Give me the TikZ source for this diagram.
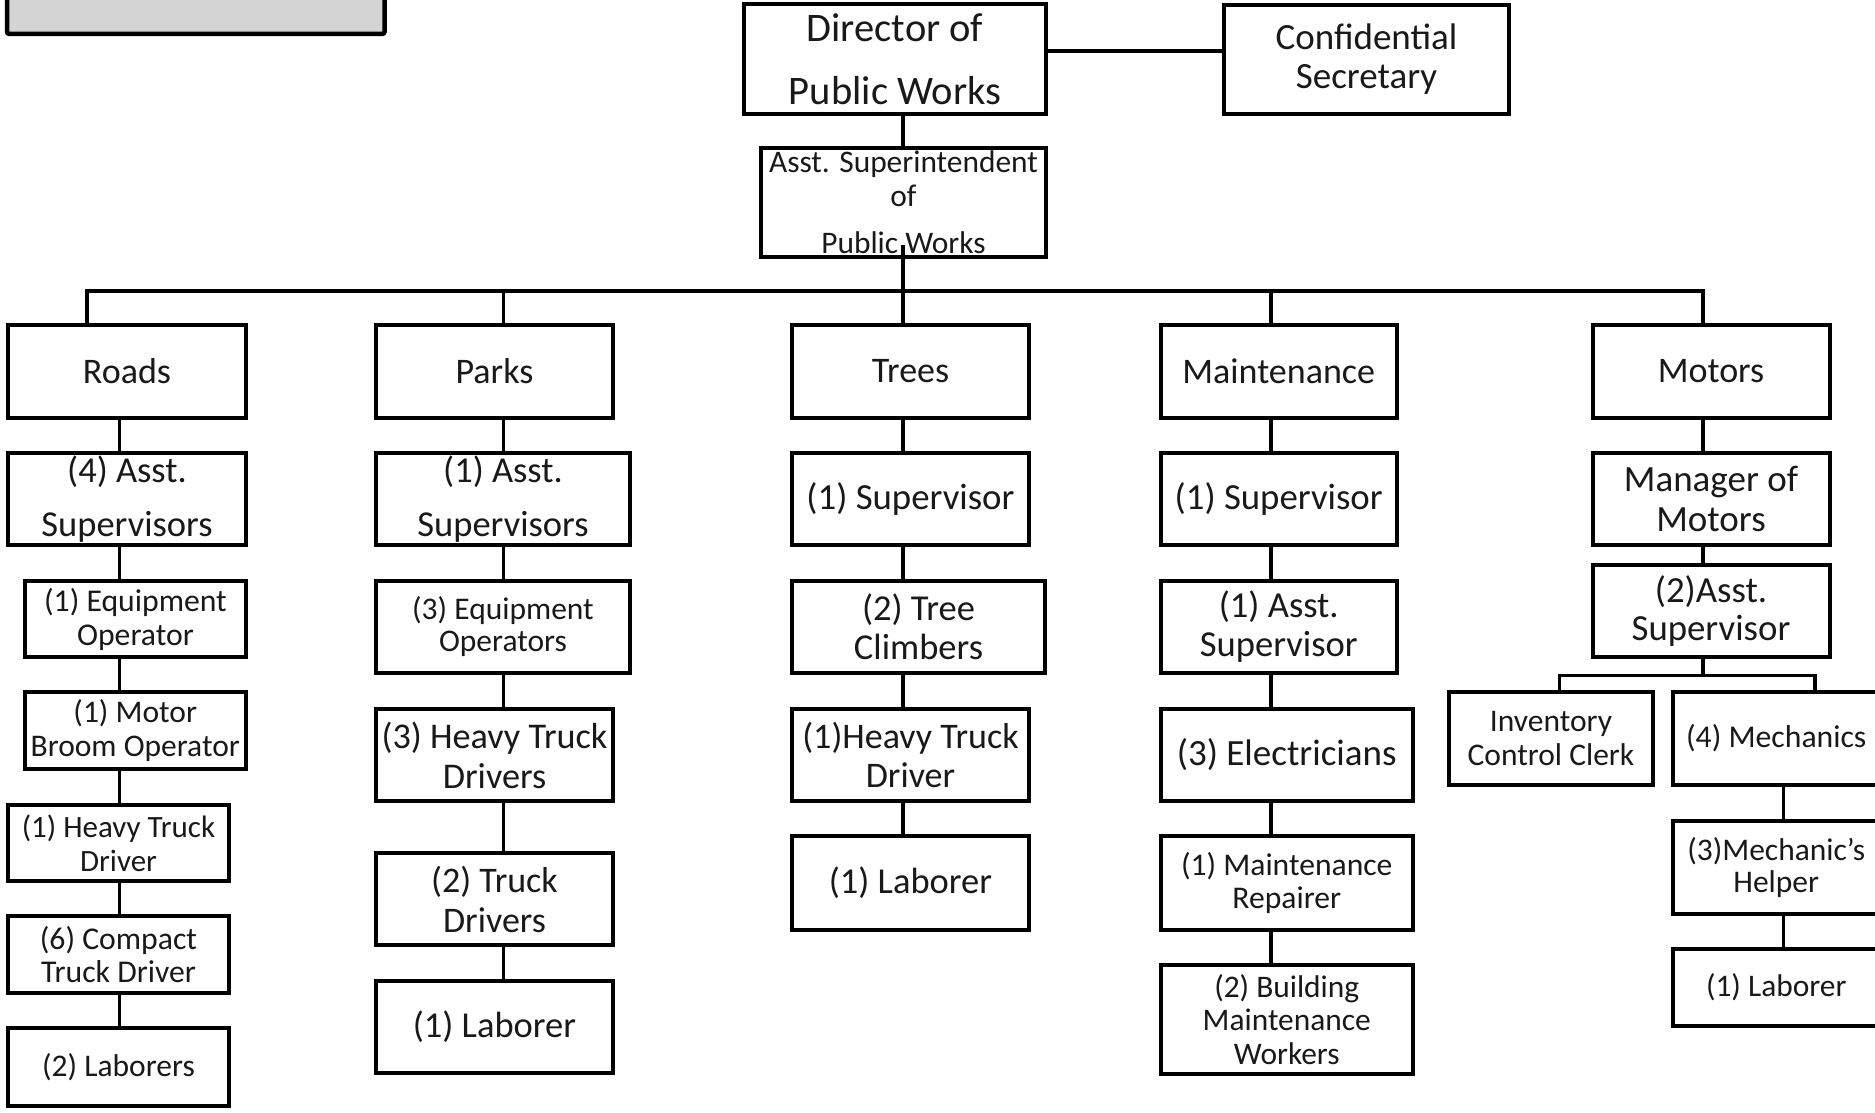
\documentclass[tikz,border=0pt]{standalone}
\usepackage{fontspec}
\setmainfont{Carlito}
\usetikzlibrary{calc}
\tikzset{
  box/.style={draw, line width=4pt, fill=white, inner sep=0pt, align=center, text=black!90},
  link/.style={line width=3.3pt},
}
\newcommand\bx[8]{\node[box, minimum width={(#4)-(#2)-4}, minimum height={(#5)-(#3)-4}, font=\fontsize{#6}{#7}\selectfont] (#1) at ({((#2)+(#4))/2},{((#3)+(#5))/2}) {#8};}
\begin{document}
\begin{tikzpicture}[x=1pt,y=-1pt]
\useasboundingbox (0,0) rectangle (1875,1112);
\clip (0,0) rectangle (1875,1112);
% gray box top-left (cut off)
\draw[line width=4.5pt, fill=black!17, rounded corners=2pt] (7,-30) rectangle (384.5,33.8);
% top
\bx{dir}{742}{2}{1048}{116}{40.5}{63.4}{Director of\\Public Works}
\bx{conf}{1222}{3}{1511}{116}{37}{39}{Confidential\\Secretary}
\bx{asst}{759}{146}{1048}{259}{31.4}{34}{Asst. Superintendent\\of\\[12.7pt]Public Works}
% categories
\bx{roads}{6}{322.5}{248}{419.5}{36}{39.5}{Roads}
\bx{parks}{374}{322.5}{615}{419.5}{36}{39.5}{Parks}
\bx{trees}{790}{322.5}{1031}{419.5}{36}{39.5}{Trees}
\bx{maint}{1158.5}{322.5}{1399}{419.5}{36}{39.5}{Maintenance}
\bx{motors}{1590.5}{322.5}{1831.5}{419.5}{36}{39.5}{Motors}
% roads
\bx{r1}{6}{451}{248}{547}{36.5}{54.4}{(4) Asst.\\Supervisors}
\bx{r2}{23}{579}{248}{659}{31.7}{34}{(1) Equipment\\Operator}
\bx{r3}{23}{690}{247.5}{771}{31.5}{34}{(1) Motor\\Broom Operator}
\bx{r4}{6}{803}{231}{883}{31}{34}{(1) Heavy Truck\\Driver}
\bx{r5}{6}{914}{231}{995}{31.7}{33.5}{(6) Compact\\Truck Driver}
\bx{r6}{6}{1026}{231}{1108}{31.5}{34}{(2) Laborers}
% parks
\bx{p1}{374}{451}{632}{547}{36.5}{54.4}{(1) Asst.\\Supervisors}
\bx{p2}{374}{579}{632}{675}{31.5}{32}{(3) Equipment\\Operators}
\bx{p3}{374}{707}{615}{803}{36.2}{40}{(3) Heavy Truck\\Drivers}
\bx{p4}{374}{851}{615}{947}{36}{40}{(2) Truck\\Drivers}
\bx{p5}{374}{979}{615}{1075}{36.5}{40}{(1) Laborer}
% trees
\bx{t1}{790}{451}{1031}{547}{36.8}{40}{(1) Supervisor}
\bx{t2}{790}{579}{1047}{675}{36.5}{39.5}{(2) Tree\\Climbers}
\bx{t3}{790}{707}{1031}{803}{36}{39}{(1)Heavy Truck\\Driver}
\bx{t4}{790}{834}{1031}{932}{36.5}{40}{(1) Laborer}
% maintenance
\bx{m1}{1158.5}{451}{1399}{547}{36.8}{40}{(1) Supervisor}
\bx{m2}{1158.5}{579}{1399}{675}{36.6}{39}{(1) Asst.\\Supervisor}
\bx{m3}{1158.5}{707}{1415}{803}{37}{40}{(3) Electricians}
\bx{m4}{1158.5}{834}{1415}{932}{31.6}{33.5}{(1) Maintenance\\Repairer}
\bx{m5}{1158.5}{963}{1415}{1076}{31.4}{33.7}{(2) Building\\Maintenance\\Workers}
% motors
\bx{mo1}{1590.5}{451}{1831.5}{547}{37}{40}{Manager of\\Motors}
\bx{mo2}{1590.5}{563}{1831.5}{659}{36.8}{38.5}{(2)Asst.\\Supervisor}
\bx{inv}{1447}{690}{1655}{787}{31.5}{34}{Inventory\\Control Clerk}
\bx{mech}{1670.5}{690}{1882}{787}{31.7}{34}{(4) Mechanics}
\bx{help}{1670.5}{819}{1882}{916}{31.5}{32}{(3)Mechanic’s\\Helper}
\bx{lab}{1670.5}{947}{1882}{1028}{31.4}{34}{(1) Laborer}
% connectors top
\coordinate (xTop) at (903,0);
\coordinate (dc) at (0,51);
\draw[link] (dc -| dir.east) -- (dc -| conf.west);
\draw[link] (xTop |- dir.south) -- (xTop |- asst.north);
\draw[link] ($(xTop |- asst.south)+(0,-14.5)$) -- ($(xTop |- asst.south)+(0,41.5)$);
% bus
\coordinate (dR) at (87,291);
\coordinate (dP) at (503.7,291);
\coordinate (dT) at (903,291);
\coordinate (dM) at (1271,291);
\coordinate (dMo) at (1703,291);
\draw[link] (dR |- roads.north) -- (dR) -- (dMo) -- (dMo |- motors.north);
\draw[link] (dP) -- (dP |- parks.north);
\draw[link] (dT) -- (dT |- trees.north);
\draw[link] (dM) -- (dM |- maint.north);
% chains
\coordinate (cR) at (119.4,0);
\coordinate (cP) at (503.7,0);
\coordinate (cT) at (903,0);
\coordinate (cM) at (1271,0);
\coordinate (cMo) at (1703,0);
\coordinate (cMe) at (1783.3,0);
\foreach \a/\b in {roads/r1,r1/r2,r2/r3,r3/r4,r4/r5,r5/r6}
  \draw[link] (cR |- \a.south) -- (cR |- \b.north);
\foreach \a/\b in {parks/p1,p1/p2,p2/p3,p3/p4,p4/p5}
  \draw[link] (cP |- \a.south) -- (cP |- \b.north);
\foreach \a/\b in {trees/t1,t1/t2,t2/t3,t3/t4}
  \draw[link] (cT |- \a.south) -- (cT |- \b.north);
\foreach \a/\b in {maint/m1,m1/m2,m2/m3,m3/m4,m4/m5}
  \draw[link] (cM |- \a.south) -- (cM |- \b.north);
\foreach \a/\b in {motors/mo1,mo1/mo2}
  \draw[link] (cMo |- \a.south) -- (cMo |- \b.north);
\foreach \a/\b in {mech/help,help/lab}
  \draw[link] (cMe |- \a.south) -- (cMe |- \b.north);
% motors sub-bus
\coordinate (sbL) at (1559.3,675.3);
\coordinate (sbR) at (1815,675.3);
\draw[link] (sbL |- inv.north) -- (sbL) -- (sbR) -- (sbR |- mech.north);
\draw[link] (cMo |- mo2.south) -- (cMo |- sbL);
\end{tikzpicture}
\end{document}
